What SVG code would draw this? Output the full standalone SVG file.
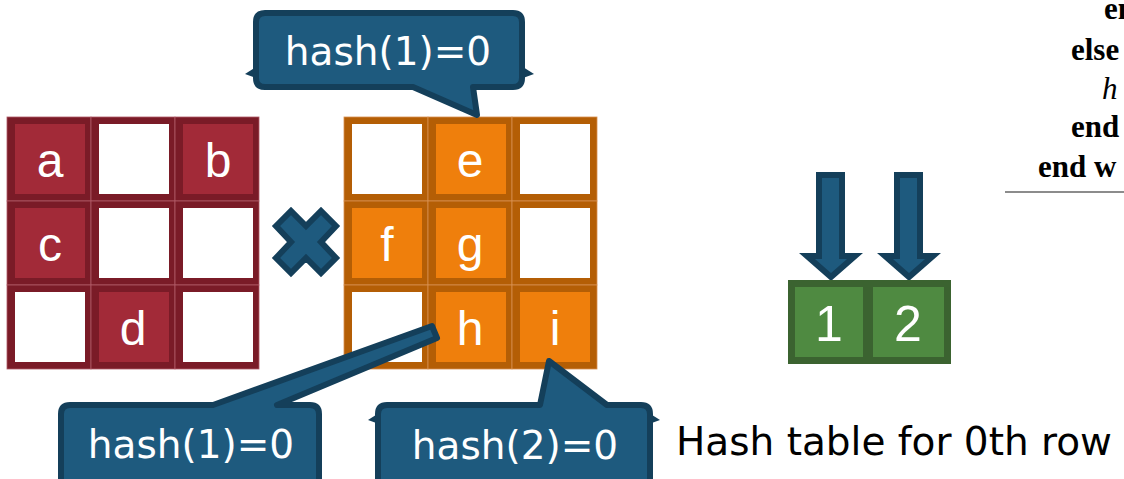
<svg xmlns="http://www.w3.org/2000/svg" width="1124" height="479" viewBox="0 0 1124 479">
<style>
.rd{fill:#7a1b27;stroke:#b05a66;stroke-width:0.8}
.rf{fill:#a22a38}
.od{fill:#b45e05;stroke:#d89050;stroke-width:0.8}
.of{fill:#ef7f0c}
.wf{fill:#ffffff}
.lt{font-family:"Liberation Sans",Arial,sans-serif;font-size:48px;fill:#ffffff;text-anchor:middle}
.dg{font-family:"Liberation Sans",Arial,sans-serif;font-size:50px;fill:#ffffff;text-anchor:middle}
.call{fill:#1e5a7e;stroke:#143f5a;stroke-width:6;stroke-linejoin:round}
.ct{font-family:"DejaVu Sans",Verdana,sans-serif;font-size:39px;fill:#ffffff;text-anchor:middle}
.cap{font-family:"DejaVu Sans",Verdana,sans-serif;font-size:39px;fill:#000000}
.code{font-family:"Liberation Serif","Times New Roman",serif;font-size:31px;font-weight:bold;fill:#000000}
.codei{font-family:"Liberation Serif","Times New Roman",serif;font-size:31px;font-style:italic;fill:#000000}
.gb{fill:#4f8a41;stroke:#3b6330;stroke-width:7}
.arr{fill:#1e5a7e;stroke:#143f5a;stroke-width:6;stroke-linejoin:miter}
</style>

<g id="matrixA">
  <g id="a11"><rect class="rd" x="7" y="117" width="84" height="84"/><rect class="rf" x="15" y="124" width="70" height="70"/><text class="lt" x="50" y="177">a</text></g>
  <g id="a12"><rect class="rd" x="91" y="117" width="84" height="84"/><rect class="wf" x="99" y="124" width="70" height="70"/></g>
  <g id="a13"><rect class="rd" x="175" y="117" width="84" height="84"/><rect class="rf" x="183" y="124" width="70" height="70"/><text class="lt" x="218" y="177">b</text></g>
  <g id="a21"><rect class="rd" x="7" y="201" width="84" height="84"/><rect class="rf" x="15" y="208" width="70" height="70"/><text class="lt" x="50" y="261">c</text></g>
  <g id="a22"><rect class="rd" x="91" y="201" width="84" height="84"/><rect class="wf" x="99" y="208" width="70" height="70"/></g>
  <g id="a23"><rect class="rd" x="175" y="201" width="84" height="84"/><rect class="wf" x="183" y="208" width="70" height="70"/></g>
  <g id="a31"><rect class="rd" x="7" y="285" width="84" height="84"/><rect class="wf" x="15" y="292" width="70" height="70"/></g>
  <g id="a32"><rect class="rd" x="91" y="285" width="84" height="84"/><rect class="rf" x="99" y="292" width="70" height="70"/><text class="lt" x="133" y="345">d</text></g>
  <g id="a33"><rect class="rd" x="175" y="285" width="84" height="84"/><rect class="wf" x="183" y="292" width="70" height="70"/></g>
</g>

<g id="times">
  <polygon class="arr" points="276,226 291,211 306,226 321,211 336,226 321,242 336,258 321,273 306,258 291,273 276,258 291,242"/>
</g>

<g id="matrixB">
  <g id="b11"><rect class="od" x="344" y="117" width="84" height="84"/><rect class="wf" x="352" y="124" width="70" height="70"/></g>
  <g id="b12"><rect class="od" x="428" y="117" width="84" height="84"/><rect class="of" x="436" y="124" width="70" height="70"/><text class="lt" x="470" y="177">e</text></g>
  <g id="b13"><rect class="od" x="512" y="117" width="85" height="84"/><rect class="wf" x="520" y="124" width="70" height="70"/></g>
  <g id="b21"><rect class="od" x="344" y="201" width="84" height="84"/><rect class="of" x="352" y="208" width="70" height="70"/><text class="lt" x="387" y="261">f</text></g>
  <g id="b22"><rect class="od" x="428" y="201" width="84" height="84"/><rect class="of" x="436" y="208" width="70" height="70"/><text class="lt" x="470" y="261">g</text></g>
  <g id="b23"><rect class="od" x="512" y="201" width="85" height="84"/><rect class="wf" x="520" y="208" width="70" height="70"/></g>
  <g id="b31"><rect class="od" x="344" y="285" width="84" height="84"/><rect class="wf" x="352" y="292" width="70" height="70"/></g>
  <g id="b32"><rect class="od" x="428" y="285" width="84" height="84"/><rect class="of" x="436" y="292" width="70" height="70"/><text class="lt" x="470" y="345">h</text></g>
  <g id="b33"><rect class="od" x="512" y="285" width="85" height="84"/><rect class="of" x="520" y="292" width="70" height="70"/><text class="lt" x="555" y="345">i</text></g>
</g>

<g id="callout-top">
  <polygon fill="#143f5a" points="245,74 256,67 256,78"/>
  <polygon fill="#143f5a" points="534,74 523,67 523,78"/>
  <path class="call" d="M265,13 H513 Q522,13 522,22 V78 Q522,87 513,87 H473 L477,115 L413,87 H265 Q256,87 256,78 V22 Q256,13 265,13 Z"/>
  <text class="ct" x="388" y="65">hash(1)=0</text>
</g>

<g id="callout-bl">
  <path class="call" d="M70,405 H213 L432,326 L437,338 L277,405 H310 Q319,405 319,414 V490 H61 V414 Q61,405 70,405 Z"/>
  <text class="ct" x="191" y="458">hash(1)=0</text>
</g>

<g id="callout-bm">
  <polygon fill="#143f5a" points="368,420 379,413 379,424"/>
  <polygon fill="#143f5a" points="660,420 649,413 649,424"/>
  <path class="call" d="M387,405 H540 L549,361 L607,405 H641 Q650,405 650,414 V490 H378 V414 Q378,405 387,405 Z"/>
  <text class="ct" x="515" y="459">hash(2)=0</text>
</g>

<g id="connectors">
  <polygon class="arr" points="819,175 842,175 842,256 855,256 831,277 807,256 819,256"/>
  <polygon class="arr" points="897,175 920,175 920,256 933,256 909,277 885,256 897,256"/>
</g>

<g id="hashtable">
  <g id="slot1"><rect class="gb" x="791.5" y="283.5" width="75" height="77"/><text class="dg" x="829" y="341">1</text></g>
  <g id="slot2"><rect class="gb" x="869.5" y="283.5" width="78" height="77"/><text class="dg" x="908" y="341">2</text></g>
</g>

<g id="caption">
  <text class="cap" x="676" y="455">Hash table for 0th row</text>
</g>

<g id="code">
  <text class="code" x="1104" y="19">en</text>
  <text class="code" x="1071" y="60">else</text>
  <text class="codei" x="1102" y="99">h</text>
  <text class="code" x="1071" y="137">end</text>
  <text class="code" x="1038" y="177">end w</text>
  <line x1="1005" y1="192" x2="1124" y2="192" stroke="#666666" stroke-width="1.5"/>
</g>
</svg>
